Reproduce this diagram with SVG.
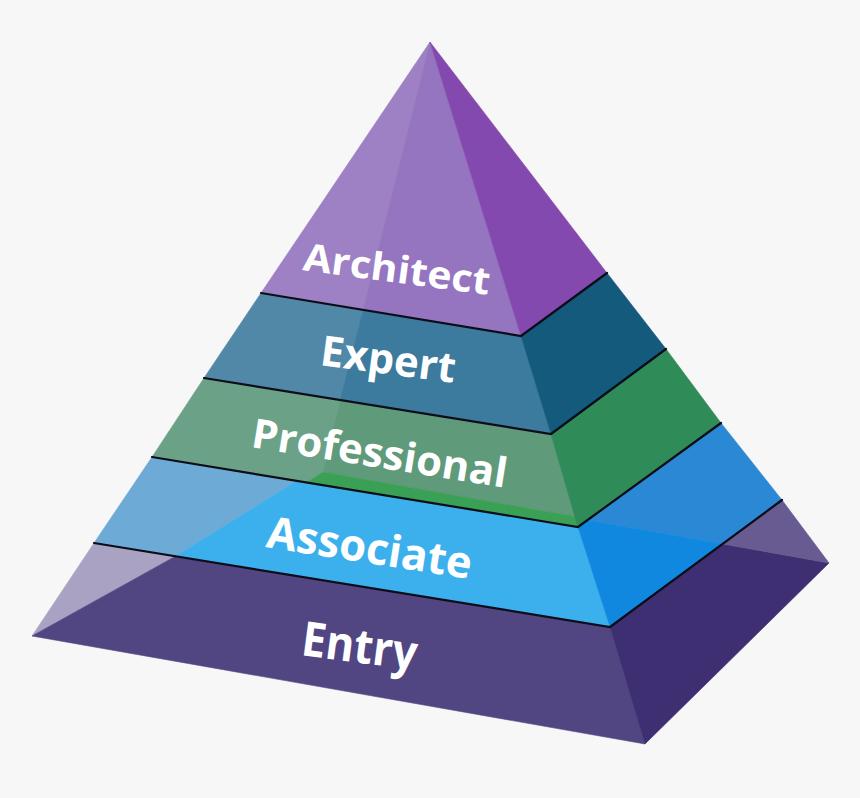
<svg xmlns="http://www.w3.org/2000/svg" width="860" height="798" viewBox="0 0 860 798">
<style>
  .lbl{font-family:"Open Sans","Liberation Sans",sans-serif;font-weight:700;fill:#ffffff;}
  .edge{fill:none;stroke:#0d0d1a;stroke-width:2.2;stroke-linejoin:miter;stroke-linecap:round;}
  polygon{stroke-width:0.6;stroke-linejoin:round;}
</style>
<rect width="860" height="798" fill="#f7f7f7"/>

<g id="entry">
  <polygon points="94,543 176,556 32,636" fill="#a9a2c2" stroke="#a9a2c2"/>
  <polygon points="176,556 610,627 645,744 32,636" fill="#514682" stroke="#514682"/>
  <polygon points="610,627 723,544 829,563 645,744" fill="#3e2f72" stroke="#3e2f72"/>
  <polygon points="723,544 782,500 829,563" fill="#675b92" stroke="#675b92"/>
  <text class="lbl" x="300" y="655" font-size="48" textLength="116" lengthAdjust="spacingAndGlyphs" transform="rotate(7.5 300 655)">Entry</text>
</g>

<g id="associate">
  <polygon points="152,457 297,481 176,556 94,543" fill="#6eaad6" stroke="#6eaad6"/>
  <polygon points="297,481 578,527 610,627 176,556" fill="#3cb0ec" stroke="#3cb0ec"/>
  <polygon points="587,520 721,423 782,500 723,544" fill="#2a88d4" stroke="#2a88d4"/>
  <polygon points="578,527 587,520 723,544 610,627" fill="#1088e0" stroke="#1088e0"/>
  <text class="lbl" x="265" y="547" font-size="44" textLength="207" lengthAdjust="spacingAndGlyphs" transform="rotate(8.9 265 547)">Associate</text>
</g>

<g id="professional">
  <polygon points="204,378 340,400 323,472 306,483 152,457" fill="#6ba287" stroke="#6ba287"/>
  <polygon points="340,400 551,434 577,517 323,472" fill="#5f9a7b" stroke="#5f9a7b"/>
  <polygon points="323,472 577,517 578,527 306,483" fill="#3aa055" stroke="#3aa055"/>
  <polygon points="551,434 666,349 721,423 578,527" fill="#2f8b58" stroke="#2f8b58"/>
  <text class="lbl" x="250" y="447" font-size="41" textLength="258" lengthAdjust="spacingAndGlyphs" transform="rotate(9.1 250 447)">Professional</text>
</g>

<g id="expert">
  <polygon points="261,293 363,310 340,400 204,378" fill="#5188a8" stroke="#5188a8"/>
  <polygon points="363,310 521,336 551,434 340,400" fill="#3c7a9e" stroke="#3c7a9e"/>
  <polygon points="521,336 607,273 666,349 551,434" fill="#135a7c" stroke="#135a7c"/>
  <text class="lbl" x="319" y="365" font-size="42" textLength="136" lengthAdjust="spacingAndGlyphs" transform="rotate(7.6 319 365)">Expert</text>
</g>

<g id="architect">
  <polygon points="430,42 261,293 363,310" fill="#9e80c4" stroke="#9e80c4"/>
  <polygon points="430,42 363,310 521,336" fill="#9675c0" stroke="#9675c0"/>
  <polygon points="430,42 521,336 607,273" fill="#8449af" stroke="#8449af"/>
  <text class="lbl" x="302" y="270" font-size="38" textLength="188" lengthAdjust="spacingAndGlyphs" transform="rotate(7.6 302 270)">Architect</text>
</g>

<g id="connectors">
  <polyline class="edge" points="261,293 521,336 607,273"/>
  <polyline class="edge" points="204,378 551,434 666,349"/>
  <polyline class="edge" points="152,457 578,527 721,423"/>
  <polyline class="edge" points="94,543 610,627 782,500"/>
</g>
</svg>
